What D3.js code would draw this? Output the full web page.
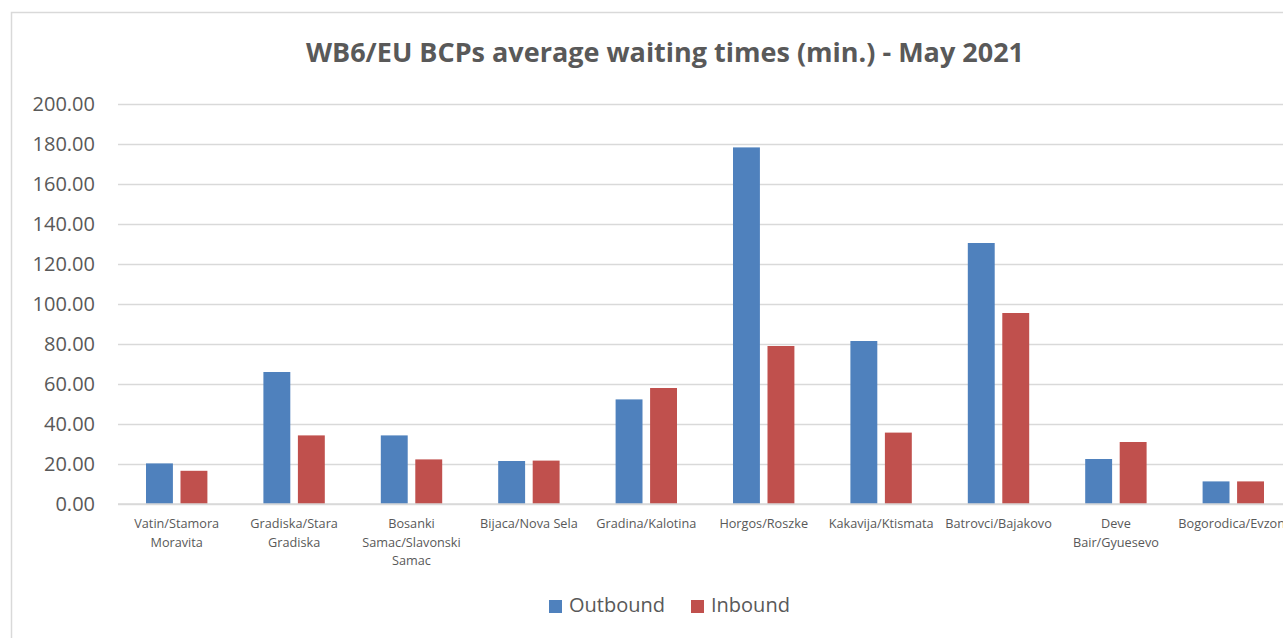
<!DOCTYPE html>
<html>
<head>
<meta charset="utf-8">
<script src="https://cdn.jsdelivr.net/npm/d3@7"></script>
<style>
  body { margin: 0; background: #fff; overflow: hidden; }
  svg text { font-family: "Open Sans", "Liberation Sans", sans-serif; fill: #595959; }
</style>
</head>
<body>
<div class="bar-graph"></div>
<script>
// data
var categories = ["Vatin/Stamora Moravita", "Gradiska/Stara Gradiska", "Bosanki Samac/Slavonski Samac",
    "Bijaca/Nova Sela", "Gradina/Kalotina", "Horgos/Roszke", "Kakavija/Ktismata",
    "Batrovci/Bajakovo", "Deve Bair/Gyuesevo", "Bogorodica/Evzoni"];
var outbound = [20.3, 66.0, 34.3, 21.5, 52.3, 178.3, 81.5, 130.5, 22.5, 11.3];
var inbound = [16.6, 34.3, 22.3, 21.7, 58.0, 79.0, 35.7, 95.5, 31.0, 11.3];
var yTicks = [0, 20, 40, 60, 80, 100, 120, 140, 160, 180, 200];
var seriesNames = ["Outbound", "Inbound"];
var seriesColors = ["#4f81bd", "#c0504d"];

var W = 1283, H = 638;
var margin = {top: 104, left: 118, bottom: 134};
var plotW = 1174, plotH = H - margin.top - margin.bottom;

var svg = d3.select(".bar-graph").append("svg")
    .attr("width", W)
    .attr("height", H);

// chart frame
svg.append("rect")
    .attr("x", 11.5).attr("y", 12.5)
    .attr("width", 1400).attr("height", 700)
    .style("fill", "none")
    .style("stroke", "#d9d9d9")
    .style("stroke-width", 1.5);

// title
svg.append("text")
    .attr("x", 665).attr("y", 62)
    .attr("text-anchor", "middle")
    .style("font-size", "27px")
    .style("font-weight", "bold")
    .text("WB6/EU BCPs average waiting times (min.) - May 2021");

var g = svg.append("g")
    .attr("transform", "translate(" + margin.left + "," + margin.top + ")");

var x = d3.scaleBand()
    .domain(categories)
    .range([0, plotW])
    .paddingInner(0)
    .paddingOuter(0);

var x1 = d3.scaleBand()
    .domain(seriesNames)
    .range([28, x.bandwidth() - 28])
    .paddingInner(0.22);

var y = d3.scaleLinear()
    .domain([0, 200])
    .range([plotH, 0]);

// gridlines
g.append("g")
    .attr("class", "grid")
    .call(d3.axisLeft(y).tickValues(yTicks).tickSize(-plotW).tickFormat(""))
    .call(function (s) { s.select(".domain").remove(); })
    .selectAll("line")
    .style("stroke", "#d9d9d9")
    .style("stroke-width", 1.5);

// y axis labels
g.append("g")
    .attr("class", "y-axis")
    .call(d3.axisLeft(y).tickValues(yTicks).tickSize(0).tickPadding(23).tickFormat(d3.format(".2f")))
    .call(function (s) { s.select(".domain").remove(); })
    .selectAll("text")
    .style("font-size", "20px")
    .style("fill", "#595959");

// bars
var groups = g.selectAll(".cat")
    .data(categories)
    .enter().append("g")
    .attr("class", "cat")
    .attr("transform", function (d) { return "translate(" + x(d) + ",0)"; });

groups.selectAll("rect")
    .data(function (d, i) {
        return [{s: seriesNames[0], v: outbound[i], c: seriesColors[0]},
                {s: seriesNames[1], v: inbound[i], c: seriesColors[1]}];
    })
    .enter().append("rect")
    .attr("x", function (d) { return x1(d.s); })
    .attr("width", x1.bandwidth())
    .attr("y", function (d) { return y(d.v); })
    .attr("height", function (d) { return plotH - y(d.v); })
    .style("fill", function (d) { return d.c; });

// baseline
g.append("line")
    .attr("x1", 0).attr("x2", plotW)
    .attr("y1", plotH).attr("y2", plotH)
    .style("stroke", "#d9d9d9")
    .style("stroke-width", 1.5);

// x axis labels, wrapped
var xAxis = g.append("g")
    .attr("class", "x-axis")
    .attr("transform", "translate(0," + plotH + ")")
    .call(d3.axisBottom(x).tickSize(0).tickPadding(15));
xAxis.select(".domain").remove();
xAxis.selectAll("text")
    .style("font-size", "12.7px")
    .style("fill", "#595959")
    .call(wrap, 110);

function wrap(texts, width) {
    texts.each(function () {
        var text = d3.select(this),
            words = text.text().split(/\s+/),
            line = [],
            lineNo = 0,
            yy = text.attr("y"),
            dy = parseFloat(text.attr("dy")),
            tspan = text.text(null).append("tspan").attr("x", 0).attr("y", yy).attr("dy", dy + "em");
        words.forEach(function (w) {
            line.push(w);
            tspan.text(line.join(" "));
            if (tspan.node().getComputedTextLength() > width && line.length > 1) {
                line.pop();
                tspan.text(line.join(" "));
                line = [w];
                lineNo++;
                tspan = text.append("tspan").attr("x", 0).attr("y", yy)
                    .attr("dy", (lineNo * 1.47 + dy) + "em").text(w);
            }
        });
    });
}

// legend
var legend = svg.append("g").attr("class", "legend");
var legendX = [549, 691];
seriesNames.forEach(function (name, i) {
    legend.append("rect")
        .attr("x", legendX[i]).attr("y", 600)
        .attr("width", 13).attr("height", 13)
        .style("fill", seriesColors[i]);
    legend.append("text")
        .attr("x", legendX[i] + 20).attr("y", 607)
        .attr("dominant-baseline", "middle")
        .style("font-size", "20px")
        .text(name);
});
</script>
</body>
</html>
